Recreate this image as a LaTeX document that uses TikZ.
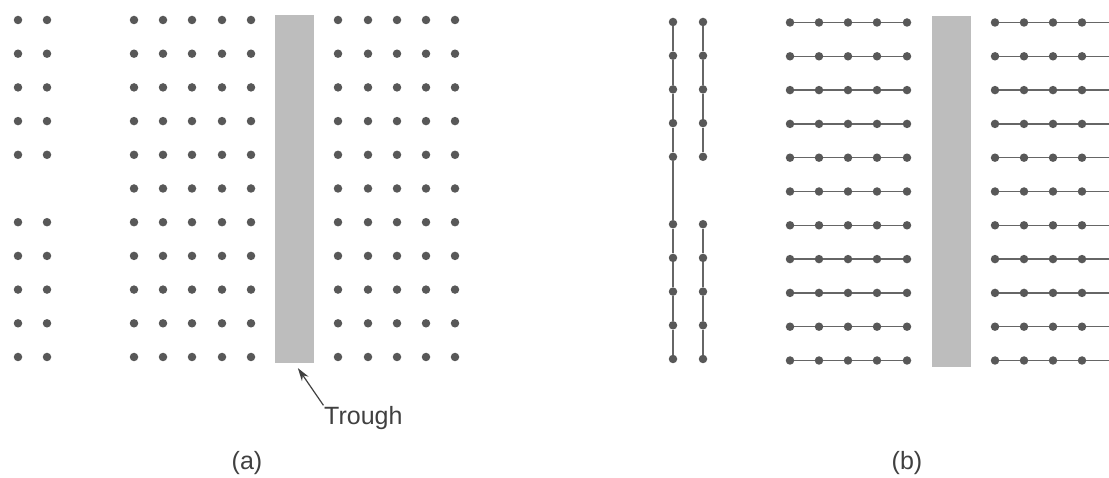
\documentclass[tikz,border=0pt]{standalone}
\usepackage{fontspec}
\setmainfont{Liberation Sans}
\usetikzlibrary{arrows.meta}
\definecolor{dotgray}{HTML}{585858}
\definecolor{linegray}{HTML}{666666}
\definecolor{troughgray}{HTML}{BDBDBD}
\definecolor{textgray}{HTML}{404040}
\begin{document}
\begin{tikzpicture}[x=1pt,y=-1pt,
  dot/.style={circle,fill=dotgray,draw=none,inner sep=0pt,minimum size=8.5pt},
  link/.style={draw=linegray,line width=1.5pt},
  troughbox/.style={fill=troughgray,draw=none,inner sep=0pt,minimum width=39pt,minimum height=348pt},
  lab/.style={text=textgray,font=\fontsize{25}{30}\selectfont,inner sep=0pt},
  pointer/.style={draw=textgray,line width=1.2pt,-{Stealth[length=13pt,width=8pt]}}]
\useasboundingbox (0,0) rectangle (1109,478);
% ---------------- panel (a) ----------------
\node[troughbox] (trA) at (294.5,189) {};
\foreach \r in {1,...,11}{
  \pgfmathsetmacro\y{20+33.7*(\r-1)}
  \ifnum\r=6\else
    \node[dot] (aL1-\r) at (18,\y) {};
    \node[dot] (aL2-\r) at (47,\y) {};
  \fi
  \foreach \c/\x in {1/134,2/163,3/192,4/222,5/251}{
    \node[dot] (aM\c-\r) at (\x,\y) {};
  }
  \foreach \c/\x in {1/338,2/368,3/397,4/426,5/455}{
    \node[dot] (aR\c-\r) at (\x,\y) {};
  }
}
\node[lab,anchor=west] (troughlab) at (324,418) {Trough};
\draw[pointer,shorten <=1pt,shorten >=6pt] (troughlab.north west) -- (trA.south);
\node[lab] (capA) at (247,463) {(a)};
% ---------------- panel (b) ----------------
\node[troughbox,minimum height=351pt] (trB) at (951.5,191.5) {};
\foreach \r in {1,...,11}{
  \pgfmathsetmacro\y{22+33.7*(\r-1)}
  \ifnum\r=6\else
    \node[dot] (bL1-\r) at (673,\y) {};
    \node[dot] (bL2-\r) at (703,\y) {};
  \fi
  \pgfmathsetmacro\yy{22.5+33.8*(\r-1)}
  \foreach \c/\x in {1/790,2/819,3/848,4/877,5/907}{
    \node[dot] (bM\c-\r) at (\x,\yy) {};
  }
  \foreach \c/\x in {1/995,2/1024,3/1053,4/1082}{
    \node[dot] (bR\c-\r) at (\x,\yy) {};
  }
  \coordinate (bRend-\r) at (1109,\yy);
}
\draw[link] (bL1-1) -- (bL1-2);
\draw[link] (bL1-2) -- (bL1-3);
\draw[link] (bL1-3) -- (bL1-4);
\draw[link] (bL1-4) -- (bL1-5);
\draw[link] (bL1-5) -- (bL1-7);
\draw[link] (bL1-7) -- (bL1-8);
\draw[link] (bL1-8) -- (bL1-9);
\draw[link] (bL1-9) -- (bL1-10);
\draw[link] (bL1-10) -- (bL1-11);
\draw[link] (bL2-1) -- (bL2-2);
\draw[link] (bL2-2) -- (bL2-3);
\draw[link] (bL2-3) -- (bL2-4);
\draw[link] (bL2-4) -- (bL2-5);
\draw[link] (bL2-7) -- (bL2-8);
\draw[link] (bL2-8) -- (bL2-9);
\draw[link] (bL2-9) -- (bL2-10);
\draw[link] (bL2-10) -- (bL2-11);
\foreach \r in {1,...,11}{
  \draw[link] (bM1-\r) -- (bM2-\r);
  \draw[link] (bM2-\r) -- (bM3-\r);
  \draw[link] (bM3-\r) -- (bM4-\r);
  \draw[link] (bM4-\r) -- (bM5-\r);
  \draw[link] (bR1-\r) -- (bR2-\r);
  \draw[link] (bR2-\r) -- (bR3-\r);
  \draw[link] (bR3-\r) -- (bR4-\r);
  \draw[link] (bR4-\r) -- (bRend-\r);
}
\node[lab] (capB) at (907,463) {(b)};
\end{tikzpicture}
\end{document}
